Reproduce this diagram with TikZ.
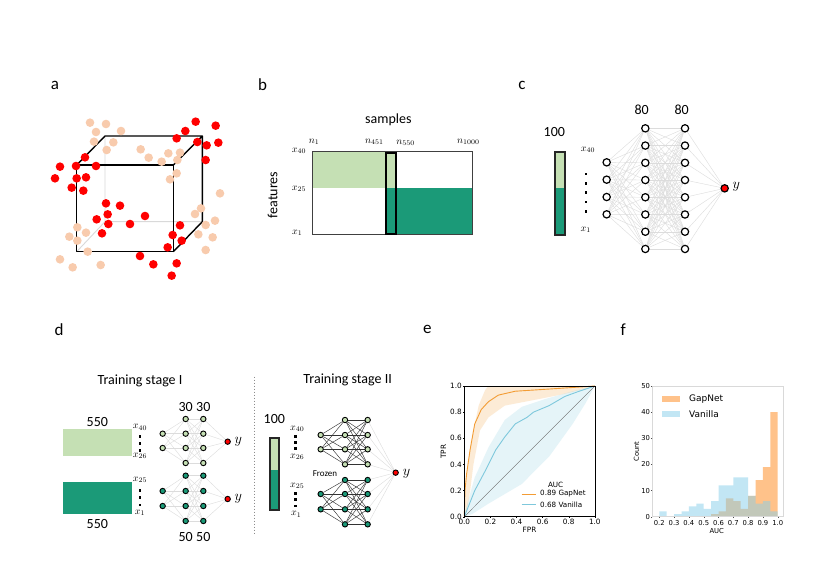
\documentclass[tikz,border=0pt]{standalone}
\usepackage{fontspec}
\setmainfont{Carlito}
\newfontfamily\dvs{DejaVu Sans}
\usetikzlibrary{backgrounds}
\definecolor{lgreen}{HTML}{C5E0B4}
\definecolor{dgreen}{HTML}{1B9A78}
\definecolor{peach}{HTML}{F8CBAD}
\definecolor{dotred}{HTML}{FF0000}
\definecolor{edgegray}{HTML}{DCDCDC}
\definecolor{hidgray}{HTML}{D9D9D9}
\definecolor{gnorange}{HTML}{F39C34}
\definecolor{vblue}{HTML}{7EC8DC}
\definecolor{horange}{HTML}{FF9A3C}
\definecolor{hblue}{HTML}{87CEEB}
\tikzset{
  panel/.style={font=\fontsize{17}{19}\selectfont, inner sep=0pt},
  big/.style={font=\fontsize{14}{16}\selectfont, inner sep=0pt},
  mlab/.style={font=\fontsize{10}{12}\selectfont, inner sep=0pt},
  ylab/.style={font=\fontsize{14}{16}\selectfont, inner sep=0pt},
  neuron/.style={circle, draw=black, line width=1.2pt, fill=white, minimum size=7.3pt, inner sep=0pt},
  sneuron/.style={circle, draw=black, line width=0.9pt, minimum size=5.4pt, inner sep=0pt},
  lneuron/.style={sneuron, fill=lgreen},
  dneuron/.style={sneuron, fill=dgreen},
  oneuron/.style={sneuron, fill=dotred},
  wedge/.style={draw=edgegray, line width=0.4pt},
  fedge/.style={draw=black!80, line width=0.45pt},
  ticklab/.style={font=\dvs\fontsize{7.3}{8}\selectfont, inner sep=0pt},
  fticklab/.style={font=\dvs\fontsize{6.8}{8}\selectfont, inner sep=0pt},
  leglab/.style={font=\dvs\fontsize{7.2}{8}\selectfont, inner sep=0pt, anchor=west},
  bigleg/.style={font=\dvs\fontsize{9}{10}\selectfont, inner sep=0pt, anchor=west},
}
\begin{document}
\begin{tikzpicture}[x=1pt,y=-1pt]
\useasboundingbox (0,0) rectangle (830,587);
\begin{scope}[on background layer]
\fill[white] (0,0) rectangle (830,587);
\end{scope}
% panel letters
\node[panel] (la) at (55,85) {a};
\node[panel] (lb) at (262.7,85) {b};
\node[panel] (lc) at (522,85) {c};
\node[panel] (ld) at (59,329.3) {d};
\node[panel] (le) at (427.3,329.3) {e};
\node[panel] (lf) at (623.3,329.3) {f};

% ---------------- panel a
\begin{scope}[shift={(40,70)},x=0.33333pt,y=-0.33333pt]
\draw[hidgray, line width=0.9pt] (195,198) -- (195,455) -- (487,455) (195,455) -- (110,545);
\draw[black, line width=1.4pt, line join=round] (110,285) rectangle (400,545);
\draw[black, line width=1.4pt, line join=round] (110,285) -- (195,198) -- (487,198) -- (487,455) -- (400,545) (400,285) -- (487,198);
\foreach \px/\py in {150/158,198/162,168/186,243/183,162/215,220/217,200/240,302/238,326/263,385/250,420/248,365/275,412/270,390/328,410/310,540/370,483/415,465/432,525/452,497/465,475/493,518/502,497/540,112/472,138/488,88/500,112/512,143/545,60/568,98/592,182/585}
  \fill[peach] (\px,\py) circle[radius=4.3pt];
\foreach \px/\py in {467/155,527/167,436/183,410/205,472/216,500/226,535/218,497/270,135/262,60/290,108/288,168/288,45/325,110/325,138/322,95/353,130/362,198/400,240/407,203/433,170/448,205/462,186/490,315/438,270/462,420/466,398/495,425/512,383/532,300/558,340/583,410/580,395/617}
  \fill[dotred] (\px,\py) circle[radius=4.3pt];
\end{scope}

% ---------------- panel b
\begin{scope}[shift={(250,70)},x=0.33333pt,y=-0.33333pt]
\fill[lgreen] (187,245) rectangle (405,355);
\fill[dgreen] (440,355) rectangle (668,493);
\draw[black!75, line width=0.9pt] (187,245) rectangle (668,493);
\fill[lgreen] (407,248) rectangle (438,355);
\fill[dgreen] (407,355) rectangle (438,492);
\draw[black, line width=2.3pt] (407,248) rectangle (438,492);
\node[big] (samples) at (415,148) {samples};
\node[big, rotate=90] (features) at (68,375) {features};
\node[mlab] (bn1) at (192,216) {$n_{1}$};
\node[mlab] (bn451) at (373,216) {$n_{451}$};
\node[mlab] (bn550) at (467,218) {$n_{550}$};
\node[mlab] (bn1000) at (655,216) {$n_{1000}$};
\node[mlab] (bx40) at (147,243) {$x_{40}$};
\node[mlab] (bx25) at (147,357) {$x_{25}$};
\node[mlab] (bx1) at (142,488) {$x_{1}$};
\end{scope}

% ---------------- panel c
\begin{scope}[shift={(530,70)},x=0.33333pt,y=-0.33333pt]
\fill[lgreen] (75,246) rectangle (105,355);
\fill[dgreen] (75,355) rectangle (105,494);
\draw[black!85, line width=2.3pt] (75,246) rectangle (105,494);
\node[big] (c100) at (73,187) {100};
\node[mlab] (cx40) at (174,240) {$x_{40}$};
\node[mlab] (cx1) at (167,480) {$x_{1}$};
\foreach \yy in {312,340,368,396,424} \fill (164,\yy-4) rectangle (172,\yy+4);
\foreach \k/\yy in {1/277,2/329,3/381,4/433} \node[neuron] (ci\k) at (230,\yy) {};
\foreach \k in {1,...,8} {
  \node[neuron] (ch\k) at (346,{175+51.7*(\k-1)}) {};
  \node[neuron] (cj\k) at (465,{175+51.7*(\k-1)}) {};
}
\node[neuron, fill=dotred] (co) at (584,355) {};
\node[ylab] (cy) at (619,350) {$y$};
\node[big] (c80a) at (335,120) {80};
\node[big] (c80b) at (455,120) {80};
\begin{scope}[on background layer]
\foreach \i in {1,...,4} \foreach \k in {1,...,8} \draw[wedge] (ci\i) -- (ch\k);
\foreach \i in {1,...,8} \foreach \k in {1,...,8} \draw[wedge] (ch\i) -- (cj\k);
\foreach \i in {1,...,8} \draw[wedge] (cj\i) -- (co);
\end{scope}
\end{scope}

% ---------------- panel d, stage I
\begin{scope}[shift={(40,320)},x=0.33333pt,y=-0.33333pt]
\node[big] (t1) at (300,182) {Training stage I};
\fill[lgreen] (68,327) rectangle (275,408);
\fill[dgreen] (68,485) rectangle (275,583);
\node[big] (d550a) at (172,305) {550};
\node[big] (d550b) at (172,612) {550};
\node[mlab] (dx40) at (300,322) {$x_{40}$};
\node[mlab] (dx26) at (300,408) {$x_{26}$};
\node[mlab] (dx25) at (300,480) {$x_{25}$};
\node[mlab] (dx1) at (300,578) {$x_{1}$};
\foreach \yy in {350,371,392,512,533,555} \fill (296,\yy-4) rectangle (304,\yy+4);
\foreach \k/\yy in {1/341,2/384} \node[lneuron] (dui\k) at (368,\yy) {};
\foreach \k/\yy in {1/297,2/341,3/384,4/429} {
  \node[lneuron] (duh\k) at (437,\yy) {};
  \node[lneuron] (duj\k) at (490,\yy) {};
}
\node[oneuron] (duo) at (563,365) {};
\node[ylab] (duy) at (595,364) {$y$};
\foreach \k/\yy in {1/513,2/558} \node[dneuron] (dli\k) at (368,\yy) {};
\foreach \k/\yy in {1/467,2/513,3/558,4/603} {
  \node[dneuron] (dlh\k) at (437,\yy) {};
  \node[dneuron] (dlj\k) at (490,\yy) {};
}
\node[oneuron] (dlo) at (563,537) {};
\node[ylab] (dly) at (595,536) {$y$};
\node[big] (d30a) at (437,262) {30};
\node[big] (d30b) at (490,262) {30};
\node[big] (d50a) at (437,650) {50};
\node[big] (d50b) at (490,650) {50};
\begin{scope}[on background layer]
\foreach \i in {1,2} \foreach \k in {1,...,4} {\draw[wedge] (dui\i) -- (duh\k); \draw[wedge] (dli\i) -- (dlh\k);}
\foreach \i in {1,...,4} \foreach \k in {1,...,4} {\draw[wedge] (duh\i) -- (duj\k); \draw[wedge] (dlh\i) -- (dlj\k);}
\foreach \i in {1,...,4} {\draw[wedge] (duj\i) -- (duo); \draw[wedge] (dlj\i) -- (dlo);}
\end{scope}
\end{scope}

% ---------------- panel d, stage II
\begin{scope}[shift={(245,320)},x=0.33333pt,y=-0.33333pt]
\coordinate (sepTop) at (27,170);
\coordinate (sepBot) at (27,645);
\draw[black!45, line width=1pt, dotted] (sepTop) -- (sepBot);
\node[big] (t2) at (308,180) {Training stage II};
\node[big] (e100) at (88,296) {100};
\fill[lgreen] (74,354) rectangle (101,450);
\fill[dgreen] (74,450) rectangle (101,571);
\draw[black!85, line width=2.2pt] (74,354) rectangle (101,571);
\node[mlab] (ex40) at (157,327) {$x_{40}$};
\node[mlab] (ex26) at (157,410) {$x_{26}$};
\node[mlab] (ex25) at (157,497) {$x_{25}$};
\node[mlab] (ex1) at (154,583) {$x_{1}$};
\foreach \yy in {350,367,385,520,539,558} \fill (148,\yy-4) rectangle (156,\yy+4);
\node[font=\fontsize{9}{10}\selectfont, inner sep=0pt] (frozen) at (240,460) {Frozen};
\foreach \k/\yy in {1/345,2/388} \node[lneuron] (eui\k) at (227,\yy) {};
\foreach \k/\yy in {1/300,2/345,3/388,4/433} {
  \node[lneuron] (euh\k) at (300,\yy) {};
  \node[lneuron] (euj\k) at (368,\yy) {};
}
\foreach \k/\yy in {1/522,2/568} \node[dneuron] (eli\k) at (227,\yy) {};
\foreach \k/\yy in {1/480,2/522,3/568,4/613} {
  \node[dneuron] (elh\k) at (300,\yy) {};
  \node[dneuron] (elj\k) at (368,\yy) {};
}
\node[oneuron] (eo) at (452,458) {};
\node[ylab] (ey) at (485,461) {$y$};
\begin{scope}[on background layer]
\foreach \i in {1,2} \foreach \k in {1,...,4} {\draw[fedge] (eui\i) -- (euh\k); \draw[fedge] (eli\i) -- (elh\k);}
\foreach \i in {1,...,4} \foreach \k in {1,...,4} {\draw[fedge] (euh\i) -- (euj\k); \draw[fedge] (elh\i) -- (elj\k);}
\foreach \i in {1,...,4} {\draw[wedge] (euj\i) -- (eo); \draw[wedge] (elj\i) -- (eo);}
\end{scope}
\end{scope}

% ---------------- panel e
\begin{scope}[shift={(464.3,516.7)},x=130.5pt,y=130.7pt]
\fill[gnorange, opacity=0.2] (0,0.1) -- (0.012,0.3) -- (0.03,0.43) -- (0.07,0.66) -- (0.11,0.85) -- (0.16,0.97) -- (0.185,1) -- (1,1)
  -- (0.77,0.94) -- (0.57,0.9) -- (0.31,0.85) -- (0.185,0.76) -- (0.12,0.66) -- (0.07,0.4) -- (0.045,0.2) -- (0.02,0.05) -- (0,0) -- cycle;
\fill[vblue, opacity=0.2] (0,0.02) -- (0.08,0.3) -- (0.185,0.53) -- (0.31,0.74) -- (0.44,0.84) -- (0.62,0.9) -- (0.83,0.96) -- (1,1)
  -- (0.93,0.87) -- (0.83,0.71) -- (0.65,0.46) -- (0.44,0.25) -- (0.185,0.1) -- (0.06,0.02) -- (0,0) -- cycle;
\coordinate (e00) at (0,0);
\coordinate (e11) at (1,1);
\draw[black!60, line width=0.35pt] (e00) -- (e11);
\draw[vblue, line width=0.9pt, line join=round] plot coordinates {(0,0) (0.08,0.2) (0.16,0.35) (0.24,0.51) (0.31,0.61) (0.39,0.71) (0.48,0.76) (0.53,0.8) (0.65,0.85) (0.77,0.92) (0.88,0.96) (1,1)};
\draw[gnorange, line width=0.9pt, line join=round] plot coordinates {(0,0) (0.005,0.2) (0.018,0.33) (0.044,0.51) (0.08,0.71) (0.13,0.82) (0.185,0.88) (0.26,0.93) (0.39,0.96) (0.7,0.98) (1,1)};
\draw[black, line width=0.6pt] (0,0) rectangle (1,1);
\foreach \v in {0.0,0.2,0.4,0.6,0.8,1.0} {
  \draw[black, line width=0.4pt] (\v,0) -- ++(0,-0.012);
  \draw[black, line width=0.4pt] (0,\v) -- ++(-0.012,0);
  \node[ticklab, anchor=north] at (\v,-0.02) {\v};
  \node[ticklab, anchor=east] at (-0.018,\v) {\v};
}
\node[ticklab] (fpr) at (0.5,-0.10) {FPR};
\node[ticklab, rotate=90] (tpr) at (-0.16,0.497) {TPR};
\node[leglab, anchor=center] (auc) at (0.70,0.247) {AUC};
\coordinate (lgA1) at (0.44,0.174);
\coordinate (lgA2) at (0.55,0.174);
\coordinate (lgB1) at (0.44,0.09);
\coordinate (lgB2) at (0.55,0.09);
\draw[gnorange, line width=0.9pt] (lgA1) -- (lgA2);
\draw[vblue, line width=0.9pt] (lgB1) -- (lgB2);
\node[leglab] (lg1) at (0.58,0.174) {0.89 GapNet};
\node[leglab] (lg2) at (0.58,0.09) {0.68 Vanilla};
\end{scope}

% ---------------- panel f
\begin{scope}[shift={(629.7,516.7)},x=148pt,y=2.614pt]
\fill[horange, opacity=0.6] (0.55,0) -- (0.55,1) -- (0.60,1) -- (0.60,2) -- (0.65,2) -- (0.65,7) -- (0.70,7) -- (0.70,6) -- (0.75,6) -- (0.75,3) -- (0.80,3) -- (0.80,8) -- (0.85,8) -- (0.85,14) -- (0.90,14) -- (0.90,19) -- (0.95,19) -- (0.95,40) -- (1.0,40) -- (1.0,0) -- cycle;
\fill[hblue, opacity=0.5] (0.2,0) -- (0.2,2) -- (0.25,2) -- (0.25,0) -- (0.30,0) -- (0.30,1) -- (0.35,1) -- (0.35,2) -- (0.40,2) -- (0.40,4) -- (0.45,4) -- (0.45,5) -- (0.50,5) -- (0.50,3) -- (0.55,3) -- (0.55,6) -- (0.60,6) -- (0.60,12) -- (0.70,12) -- (0.70,15) -- (0.80,15) -- (0.80,8) -- (0.85,8) -- (0.85,5) -- (0.90,5) -- (0.90,6) -- (0.95,6) -- (0.95,2) -- (1.0,2) -- (1.0,0) -- cycle;
\draw[black!15, line width=0.5pt] (0.1527,0) rectangle (1.0378,50);
\foreach \v in {0.2,0.3,0.4,0.5,0.6,0.7,0.8,0.9,1.0} {
  \draw[black!70, line width=0.4pt] (\v,0) -- ++(0,-0.6);
  \node[fticklab, anchor=north] at (\v,-1.5) {\v};
}
\foreach \v in {0,10,20,30,40,50} {
  \draw[black!70, line width=0.4pt] (0.1527,\v) -- ++(-0.01,0);
  \node[fticklab, anchor=east] at (0.138,\v) {\v};
}
\node[fticklab] (fauc) at (0.588,-5.3) {AUC};
\node[fticklab, rotate=90] (fcount) at (0.045,24.9) {Count};
\fill[horange, opacity=0.6] (0.216,44) rectangle (0.340,46.3);
\fill[hblue, opacity=0.5] (0.216,38.25) rectangle (0.340,40.55);
\node[bigleg] (fl1) at (0.40,45.1) {GapNet};
\node[bigleg] (fl2) at (0.40,39.4) {Vanilla};
\end{scope}
\end{tikzpicture}
\end{document}
